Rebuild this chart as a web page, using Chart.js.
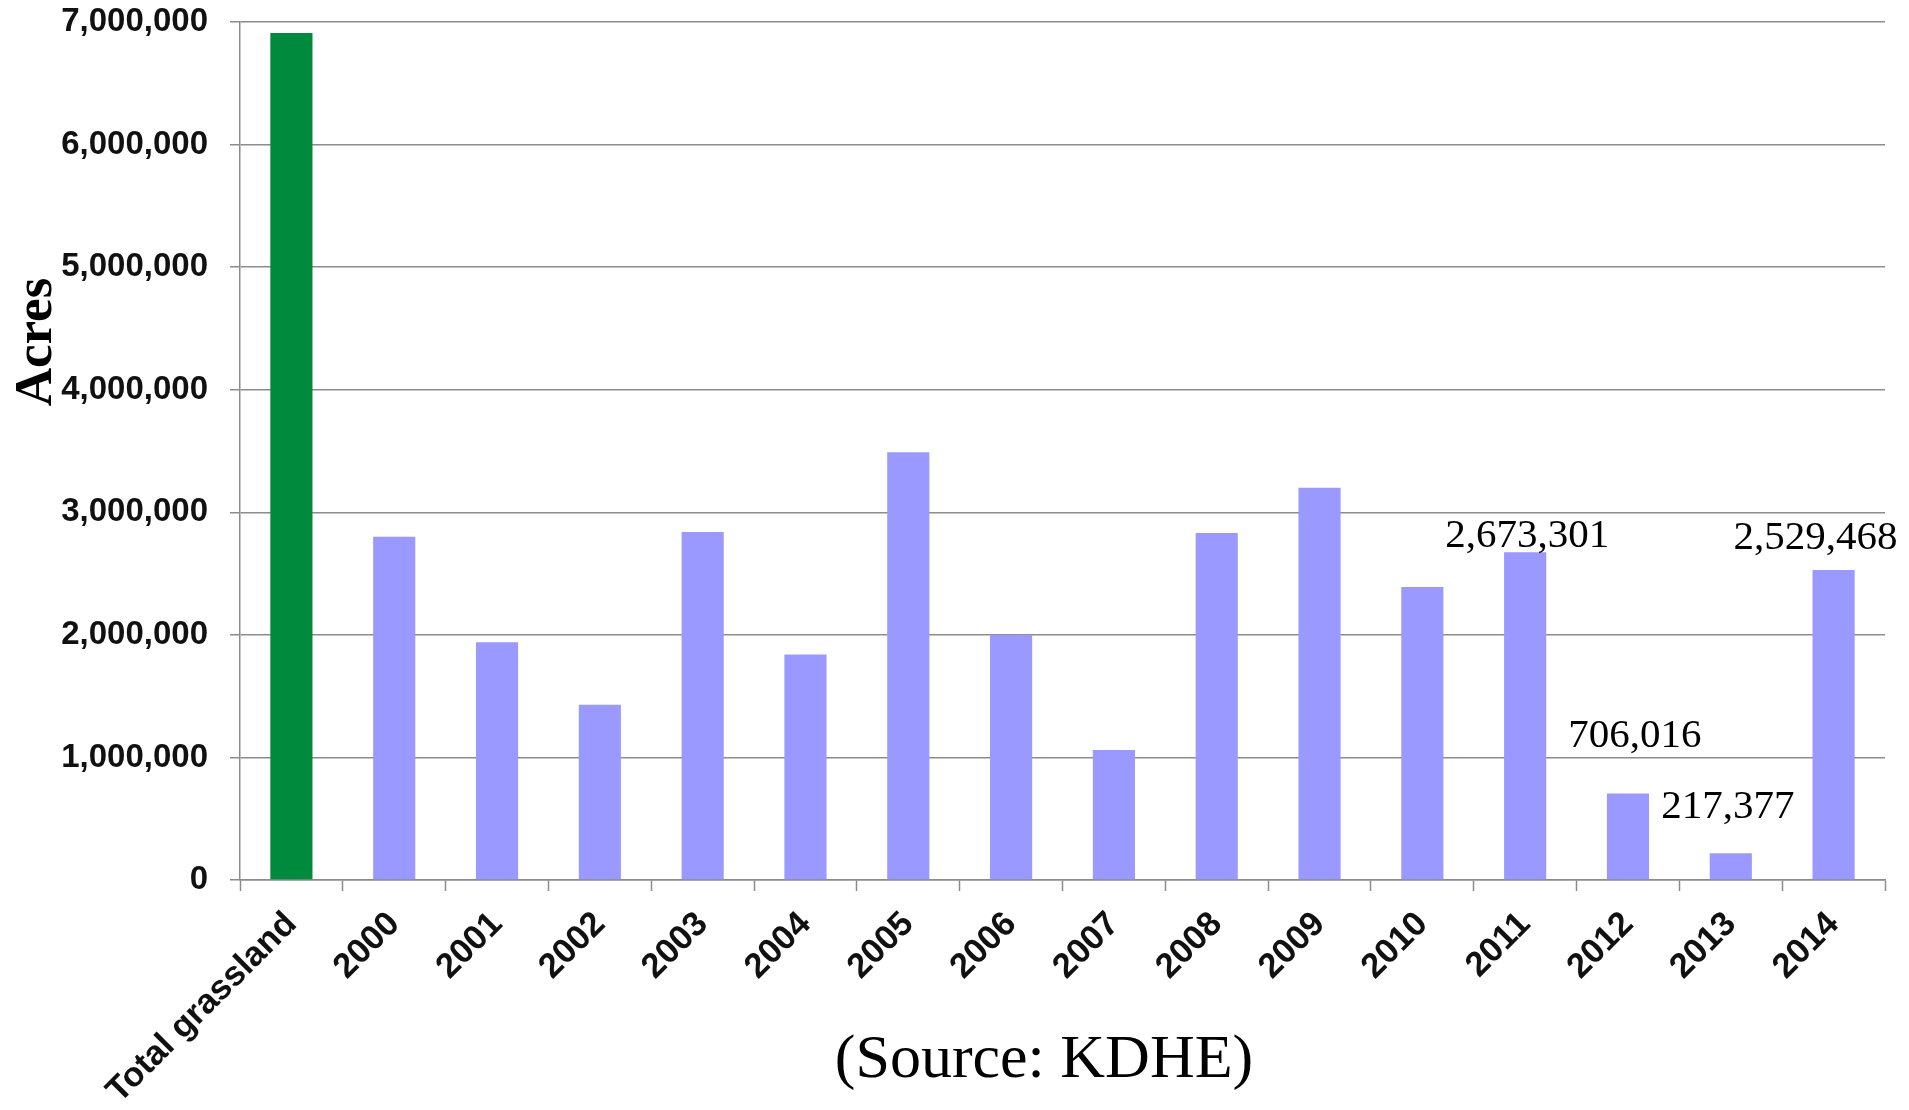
<!DOCTYPE html>
<html>
<head>
<meta charset="utf-8">
<script src="https://cdn.jsdelivr.net/npm/chart.js@4/dist/chart.umd.min.js"></script>
<style>
  html, body { margin: 0; padding: 0; background: #fff; }
  #wrap { width: 1909px; height: 1110px; }
</style>
</head>
<body>
<div id="wrap"><canvas id="c" width="1909" height="1110"></canvas></div>
<script>
// Grassland acres by year, with the statewide total for comparison
const categories = ['Total grassland', '2000', '2001', '2002', '2003', '2004', '2005', '2006',
                    '2007', '2008', '2009', '2010', '2011', '2012', '2013', '2014'];
const acres = [6910000, 2800000, 1940000, 1430000, 2840000, 1840000, 3490000, 2000000,
               1060000, 2830000, 3200000, 2390000, 2673301, 706016, 217377, 2529468];
const yTicks = [0, 1000000, 2000000, 3000000, 4000000, 5000000, 6000000, 7000000];
const labelledYears = ['2011', '2012', '2013', '2014'];

const GREEN = '#008a3e';
const LAVENDER = '#9999ff';
const GRID = '#8c8c8c';

// Per-label placement tweaks for the value annotations
const annotationPlacement = {
  '2011': { dx: 2, gap: 5 },
  '2012': { dx: 7, gap: 46 },
  '2013': { dx: -3, gap: 35 },
  '2014': { dx: -18, gap: 21 }
};

const fmt = v => v.toLocaleString('en-US');

const textPlugin = {
  id: 'chartTexts',
  afterDraw(chart) {
    const ctx = chart.ctx;
    const meta = chart.getDatasetMeta(0);
    ctx.save();
    ctx.fillStyle = '#000';

    // value annotations
    ctx.font = '41px "Liberation Serif", "Times New Roman", serif';
    ctx.textAlign = 'center';
    ctx.textBaseline = 'alphabetic';
    labelledYears.forEach(year => {
      const i = categories.indexOf(year);
      const bar = meta.data[i];
      const p = annotationPlacement[year];
      ctx.fillText(fmt(acres[i]), bar.x + p.dx, bar.y - p.gap);
    });

    // y axis title
    ctx.save();
    ctx.font = 'bold 53px "Liberation Serif", "Times New Roman", serif';
    ctx.translate(51, 342);
    ctx.rotate(-Math.PI / 2);
    ctx.textAlign = 'center';
    ctx.textBaseline = 'alphabetic';
    ctx.fillText('Acres', 0, 0);
    ctx.restore();

    // source note
    ctx.font = '62px "Liberation Serif", "Times New Roman", serif';
    ctx.textAlign = 'center';
    ctx.textBaseline = 'alphabetic';
    ctx.fillText('(Source: KDHE)', 1044, 1077);
    ctx.restore();
  }
};

new Chart(document.getElementById('c'), {
  type: 'bar',
  data: {
    labels: categories,
    datasets: [{
      data: acres,
      backgroundColor: categories.map((c, i) => i === 0 ? GREEN : LAVENDER),
      borderWidth: 0,
      barPercentage: 0.41,
      categoryPercentage: 1.0
    }]
  },
  options: {
    responsive: false,
    animation: false,
    devicePixelRatio: 1,
    layout: { padding: { left: 0, right: 24, top: 22, bottom: 0 } },
    plugins: {
      legend: { display: false },
      tooltip: { enabled: false }
    },
    scales: {
      x: {
        grid: {
          display: true,
          drawOnChartArea: false,
          drawTicks: true,
          tickLength: 11,
          tickWidth: 1.5,
          tickColor: GRID,
          offset: true
        },
        border: { display: true, color: GRID, width: 1.5 },
        ticks: {
          autoSkip: false,
          maxRotation: 45,
          minRotation: 45,
          padding: 13,
          color: '#111',
          font: { family: '"Liberation Sans", Arial, sans-serif', size: 34.5, weight: 'bold' }
        },
        afterFit(scale) { scale.height = 230; }
      },
      y: {
        min: 0,
        max: 7000000,
        afterBuildTicks(scale) { scale.ticks = yTicks.map(v => ({ value: v })); },
        grid: {
          color: GRID,
          lineWidth: 1.5,
          drawTicks: true,
          tickLength: 10,
          tickColor: GRID
        },
        border: { display: true, color: GRID, width: 1.5 },
        ticks: {
          padding: 22,
          color: '#111',
          callback: v => fmt(v),
          font: { family: '"Liberation Sans", Arial, sans-serif', size: 33, weight: 'bold' }
        },
        afterFit(scale) {
          scale.width = 240;
          scale.paddingTop = 0;
          scale.paddingBottom = 0;
        }
      }
    }
  },
  plugins: [textPlugin]
});
</script>
</body>
</html>
